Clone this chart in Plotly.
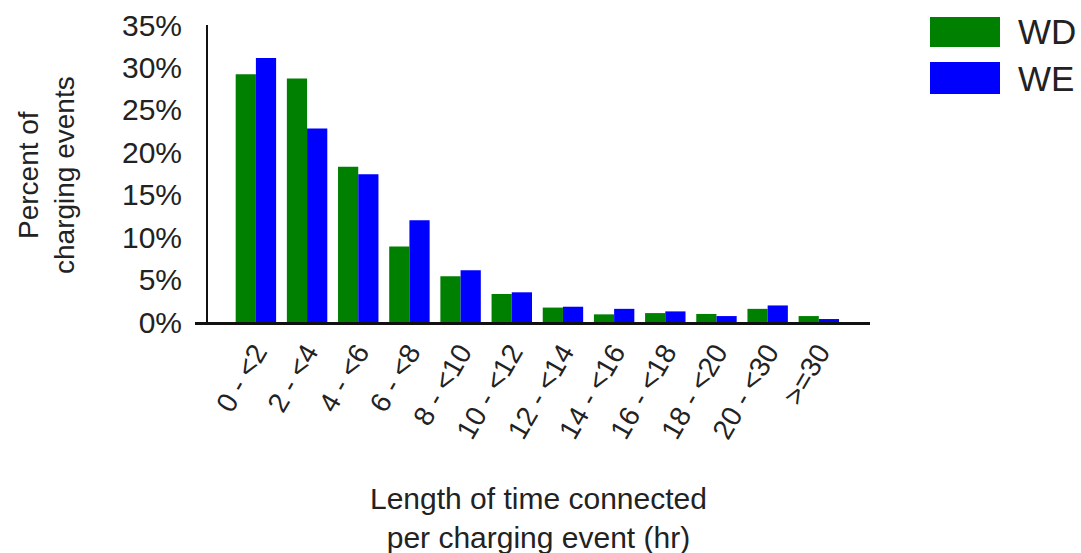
import plotly.graph_objects as go

W, H = 1081, 553

categories = ["0 - <2", "2 - <4", "4 - <6", "6 - <8", "8 - <10", "10 - <12",
              "12 - <14", "14 - <16", "16 - <18", "18 - <20", "20 - <30", ">=30"]
wd_values = [29.2, 28.7, 18.3, 8.9, 5.4, 3.3, 1.7, 0.9, 1.05, 0.95, 1.55, 0.7]
we_values = [31.1, 22.8, 17.4, 12.0, 6.1, 3.5, 1.8, 1.55, 1.25, 0.7, 1.95, 0.35]
y_ticks = [0, 5, 10, 15, 20, 25, 30, 35]
y_tick_labels = [f"{v}%" for v in y_ticks]

GREEN = "#008000"
BLUE = "#0000FF"
FONT = "Liberation Sans, Arial, sans-serif"
TXT = "#222222"

fig = go.Figure()
fig.add_trace(go.Bar(name="WD", x=categories, y=wd_values, marker_color=GREEN,
                     marker_line_width=0, showlegend=False))
fig.add_trace(go.Bar(name="WE", x=categories, y=we_values, marker_color=BLUE,
                     marker_line_width=0, showlegend=False))

def px_x(p):
    return p / W

def px_y(p):
    return 1 - p / H

fig.update_layout(
    width=W, height=H,
    margin=dict(l=0, r=0, t=0, b=0, autoexpand=False),
    paper_bgcolor="white", plot_bgcolor="white",
    barmode="group", bargap=0.21, bargroupgap=0,
    font=dict(family=FONT, color=TXT),
    xaxis=dict(
        domain=[px_x(195), px_x(870)],
        range=[-1.19, 12.0],
        automargin=False,
        showline=True, linecolor="#111111", linewidth=3,
        showgrid=False, zeroline=False, ticks="",
        tickangle=-60, tickfont=dict(size=28, family=FONT, color=TXT),
        anchor="y",
    ),
    yaxis=dict(
        domain=[px_y(322), px_y(25)],
        range=[0, 35],
        automargin=False,
        anchor="free", position=px_x(207),
        showline=True, linecolor="#111111", linewidth=2,
        showgrid=False, zeroline=False, ticks="",
        tickvals=y_ticks, ticktext=y_tick_labels,
        tickfont=dict(size=30, family=FONT, color=TXT),
        ticklabelstandoff=18,
    ),
)

# axis titles
fig.add_annotation(text="Percent of<br>charging events", xref="paper", yref="paper",
                   x=px_x(46), y=px_y(175), textangle=-90, showarrow=False,
                   font=dict(size=28, family=FONT, color=TXT), xanchor="center", yanchor="middle")
fig.add_annotation(text="Length of time connected<br>per charging event (hr)", xref="paper", yref="paper",
                   x=px_x(538), y=px_y(518), showarrow=False,
                   font=dict(size=30, family=FONT, color=TXT), xanchor="center", yanchor="middle")

# legend
legend_items = [("WD", GREEN, 17, 47), ("WE", BLUE, 62, 94)]
for name, col, y0, y1 in legend_items:
    fig.add_shape(type="rect", xref="paper", yref="paper",
                  x0=px_x(930), x1=px_x(1000), y0=px_y(y1), y1=px_y(y0),
                  fillcolor=col, line_width=0)
    fig.add_annotation(text=name, xref="paper", yref="paper",
                       x=px_x(1016), y=px_y((y0 + y1) / 2), showarrow=False,
                       xanchor="left", yanchor="middle",
                       font=dict(size=35, family=FONT, color=TXT))

fig.write_html("out.html", config={"displayModeBar": False},
               post_script="document.body.style.margin='0';document.body.style.overflow='hidden';")
